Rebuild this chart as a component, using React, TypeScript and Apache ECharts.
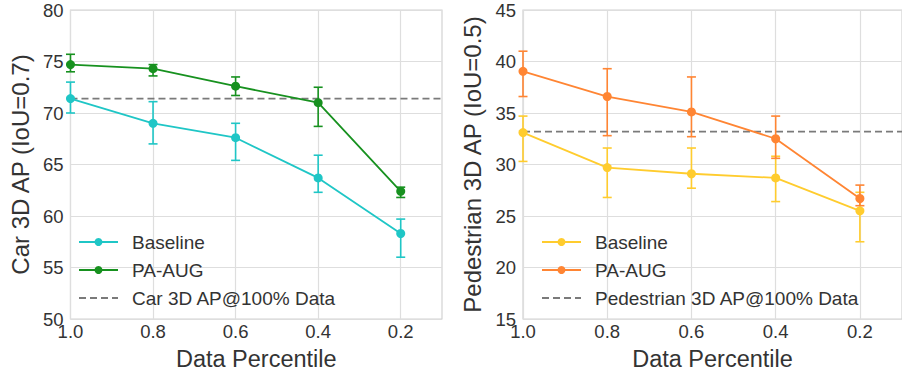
import React, { useEffect, useRef } from "react";
import * as echarts from "echarts";

const percentiles = [1.0, 0.8, 0.6, 0.4, 0.2];
const xTicks = [1.0, 0.8, 0.6, 0.4, 0.2];

const carBaseline = [71.4, 69.0, 67.6, 63.7, 58.3];
const carBaselineLow = [70.0, 67.0, 65.4, 62.3, 56.0];
const carBaselineHigh = [73.0, 71.1, 69.0, 65.9, 59.7];
const carPaAug = [74.7, 74.3, 72.6, 71.0, 62.4];
const carPaAugLow = [74.0, 73.6, 71.7, 68.7, 61.8];
const carPaAugHigh = [75.7, 74.7, 73.5, 72.5, 62.8];
const carFull = 71.4;

const pedBaseline = [33.1, 29.7, 29.1, 28.7, 25.5];
const pedBaselineLow = [30.3, 26.8, 27.7, 26.4, 22.5];
const pedBaselineHigh = [34.7, 31.6, 31.6, 30.8, 27.3];
const pedPaAug = [39.05, 36.6, 35.1, 32.5, 26.7];
const pedPaAugLow = [36.6, 32.8, 32.7, 30.6, 26.0];
const pedPaAugHigh = [41.0, 39.3, 38.5, 34.7, 28.0];
const pedFull = 33.2;

const FONT = "Liberation Sans, Arial, sans-serif";

type Panel = {
  yName: string;
  yMin: number;
  yMax: number;
  fullName: string;
  full: number;
  base: number[];
  baseLow: number[];
  baseHigh: number[];
  aug: number[];
  augLow: number[];
  augHigh: number[];
  baseColor: string;
  augColor: string;
  gridLeft: number;
};

function errSeries(low: number[], high: number[], color: string) {
  return {
    type: "custom",
    data: percentiles.map((p, i) => [p, low[i], high[i]]),
    encode: { x: 0, y: [1, 2] },
    z: 3,
    silent: true,
    renderItem: (params: any, api: any) => {
      const x = api.value(0);
      const top = api.coord([x, api.value(2)]);
      const bot = api.coord([x, api.value(1)]);
      const w = 4.5;
      const st = { stroke: color, lineWidth: 1.6 };
      return {
        type: "group",
        children: [
          { type: "line", shape: { x1: top[0], y1: top[1], x2: bot[0], y2: bot[1] }, style: st },
          { type: "line", shape: { x1: top[0] - w, y1: top[1], x2: top[0] + w, y2: top[1] }, style: st },
          { type: "line", shape: { x1: bot[0] - w, y1: bot[1], x2: bot[0] + w, y2: bot[1] }, style: st },
        ],
      };
    },
  };
}

function buildOption(p: Panel) {
  return {
    animation: false,
    backgroundColor: "#ffffff",
    textStyle: { fontFamily: FONT },
    grid: {
      left: p.gridLeft,
      top: 10,
      width: 382,
      height: 316,
      show: true,
      borderColor: "#d2d2d2",
      borderWidth: 1.2,
      backgroundColor: "transparent",
    },
    legend: {
      orient: "vertical",
      left: p.gridLeft + 13,
      top: 227,
      itemWidth: 39,
      itemHeight: 10,
      itemGap: 8,
      data: [
        "Baseline",
        "PA-AUG",
        { name: p.fullName, itemStyle: { opacity: 0 } },
      ],
      textStyle: {
        fontFamily: FONT,
        fontSize: 19,
        color: "#333333",
        lineHeight: 20,
        padding: [0, 0, 0, 9],
      },
    },
    xAxis: {
      type: "value",
      min: 0.1,
      max: 1.0,
      inverse: true,
      name: "Data Percentile",
      nameLocation: "middle",
      nameGap: 28,
      nameTextStyle: { fontFamily: FONT, fontSize: 23.5, color: "#333333" },
      axisLine: { show: false },
      axisTick: { show: false, customValues: xTicks },
      axisLabel: {
        customValues: xTicks,
        margin: 3,
        fontFamily: FONT,
        fontSize: 18.5,
        color: "#333333",
        formatter: (v: number) => v.toFixed(1),
      },
      splitLine: { show: true, lineStyle: { color: "#dedede", width: 1.2 } },
    },
    yAxis: {
      type: "value",
      min: p.yMin,
      max: p.yMax,
      interval: 5,
      name: p.yName,
      nameLocation: "middle",
      nameGap: 36,
      nameTextStyle: { fontFamily: FONT, fontSize: 24, color: "#333333" },
      axisLine: { show: false },
      axisTick: { show: false },
      axisLabel: { margin: 7, fontFamily: FONT, fontSize: 18.5, color: "#333333" },
      splitLine: { show: true, lineStyle: { color: "#dedede", width: 1.2 } },
    },
    series: [
      {
        name: p.fullName,
        type: "line",
        data: [
          [1.0, p.full],
          [0.1, p.full],
        ],
        symbol: "none",
        z: 2,
        silent: true,
        lineStyle: { color: "#7a7a7a", width: 1.8, type: [7, 4] },
        itemStyle: { color: "#7a7a7a" },
      },
      errSeries(p.baseLow, p.baseHigh, p.baseColor),
      errSeries(p.augLow, p.augHigh, p.augColor),
      {
        name: "Baseline",
        type: "line",
        data: percentiles.map((x, i) => [x, p.base[i]]),
        symbol: "circle",
        symbolSize: 9,
        z: 4,
        lineStyle: { color: p.baseColor, width: 1.8 },
        itemStyle: { color: p.baseColor },
      },
      {
        name: "PA-AUG",
        type: "line",
        data: percentiles.map((x, i) => [x, p.aug[i]]),
        symbol: "circle",
        symbolSize: 9,
        z: 4,
        lineStyle: { color: p.augColor, width: 1.8 },
        itemStyle: { color: p.augColor },
      },
    ],
  };
}

function ChartPanel({ panel, left }: { panel: Panel; left: number }) {
  const ref = useRef<HTMLDivElement>(null);
  useEffect(() => {
    if (!ref.current) return;
    const chart = echarts.init(ref.current, undefined, { renderer: "svg" });
    chart.setOption(buildOption(panel) as any);
    return () => chart.dispose();
  }, []);
  return (
    <div
      ref={ref}
      style={{ position: "absolute", left, top: 0, width: 451, height: 376 }}
    />
  );
}

const carPanel: Panel = {
  yName: "Car 3D AP (IoU=0.7)",
  yMin: 50,
  yMax: 80,
  fullName: "Car 3D AP@100% Data",
  full: carFull,
  base: carBaseline,
  baseLow: carBaselineLow,
  baseHigh: carBaselineHigh,
  aug: carPaAug,
  augLow: carPaAugLow,
  augHigh: carPaAugHigh,
  baseColor: "#1fc6c6",
  augColor: "#17911f",
  gridLeft: 60,
};

const pedPanel: Panel = {
  yName: "Pedestrian 3D AP (IoU=0.5)",
  yMin: 15,
  yMax: 45,
  fullName: "Pedestrian 3D AP@100% Data",
  full: pedFull,
  base: pedBaseline,
  baseLow: pedBaselineLow,
  baseHigh: pedBaselineHigh,
  aug: pedPaAug,
  augLow: pedPaAugLow,
  augHigh: pedPaAugHigh,
  baseColor: "#ffcc2e",
  augColor: "#ff8533",
  gridLeft: 72,
};

export default function App() {
  return (
    <div
      style={{
        position: "fixed",
        left: 0,
        top: 0,
        width: 902,
        height: 376,
        background: "#ffffff",
        overflow: "hidden",
      }}
    >
      <ChartPanel panel={carPanel} left={0} />
      <ChartPanel panel={pedPanel} left={451} />
    </div>
  );
}
